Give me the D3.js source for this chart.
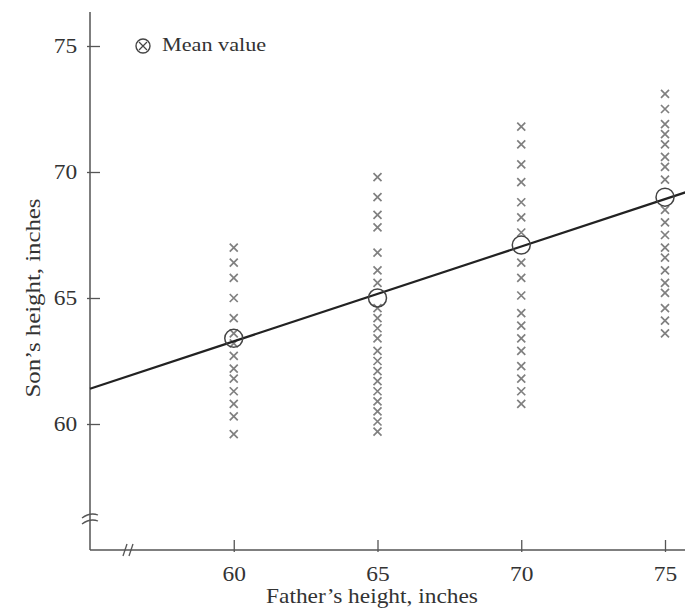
<!DOCTYPE html>
<html>
<head>
<meta charset="utf-8">
<script src="https://cdn.jsdelivr.net/npm/d3@7"></script>
<style>
  body { margin: 0; background: #fff; }
  text { font-family: "Liberation Serif", "DejaVu Serif", serif; fill: #333; }
</style>
</head>
<body>
<svg id="chart" width="685" height="614"></svg>
<script>
// Fathers' heights (x) and the sons' heights observed for each of them
var fatherHeights = [60, 65, 70, 75];
var son60 = [67.0, 66.4, 65.8, 65.0, 64.2, 63.6, 63.2, 62.7, 62.2, 61.8, 61.3, 60.8, 60.3, 59.6];
var son65 = [69.8, 69.0, 68.3, 67.8, 66.8, 66.1, 65.6, 64.6, 64.2, 63.8, 63.4, 62.9, 62.5, 62.1, 61.7, 61.3, 60.9, 60.5, 60.1, 59.7];
var son70 = [71.8, 71.1, 70.3, 69.6, 68.8, 68.2, 67.6, 66.4, 65.8, 65.1, 64.4, 63.9, 63.4, 62.9, 62.3, 61.8, 61.3, 60.8];
var son75 = [73.1, 72.5, 71.9, 71.5, 71.1, 70.6, 70.2, 69.7, 68.5, 68.0, 67.5, 67.0, 66.6, 66.1, 65.6, 65.2, 64.6, 64.1, 63.6];
var meanHeights = [63.4, 65.0, 67.1, 69.0];
// regression line end points
var lineFather = [55, 76];
var lineSon = [61.4, 69.3];

var xTicks = [60, 65, 70, 75];
var yTicks = [60, 65, 70, 75];

var svg = d3.select("#chart");

var x = d3.scaleLinear().domain([55, 75]).range([90, 665]);
var y = d3.scaleLinear().domain([55, 75]).range([550, 46]);

var axisColor = "#555";
var stretch = 1.17; // the scanned type is wider than Liberation Serif

// axes lines
svg.append("line")
  .attr("x1", x(55)).attr("x2", 685)
  .attr("y1", y(55)).attr("y2", y(55))
  .style("stroke", axisColor).style("stroke-width", 1.5);
svg.append("line")
  .attr("x1", x(55)).attr("x2", x(55))
  .attr("y1", 12).attr("y2", y(55))
  .style("stroke", axisColor).style("stroke-width", 1.5);

var xAxis = svg.append("g")
  .attr("transform", "translate(0," + y(55) + ")")
  .call(d3.axisBottom(x).tickValues(xTicks).tickSize(-10).tickPadding(17));
xAxis.select(".domain").remove();
xAxis.selectAll(".tick line").attr("y1", 2).style("stroke", axisColor).style("stroke-width", 1.3);
xAxis.selectAll(".tick text")
  .style("font-size", "20px").style("font-family", "Liberation Serif").attr("fill", "#333")
  .attr("transform", "scale(" + stretch + ",1)");

var yAxis = svg.append("g")
  .attr("transform", "translate(" + x(55) + ",0)")
  .call(d3.axisLeft(y).tickValues(yTicks).tickSize(-10).tickPadding(11));
yAxis.select(".domain").remove();
yAxis.selectAll(".tick line").attr("x1", -3).style("stroke", axisColor).style("stroke-width", 1.3);
yAxis.selectAll(".tick text")
  .style("font-size", "20px").style("font-family", "Liberation Serif").attr("fill", "#333")
  .attr("transform", "scale(" + stretch + ",1)");

// axis break marks
var by = 519;
[-3, 3].forEach(function(o) {
  svg.append("path")
    .attr("d", "M" + (x(55) - 8) + "," + (by + o + 2) + " q8,-6 16,-3")
    .style("fill", "none").style("stroke", axisColor).style("stroke-width", 1.3);
});
[-3, 3].forEach(function(o) {
  svg.append("line")
    .attr("x1", 128 + o - 2).attr("y1", y(55) + 6)
    .attr("x2", 128 + o + 2).attr("y2", y(55) - 6)
    .style("stroke", axisColor).style("stroke-width", 1.3);
});

// crosses
var sons = [son60, son65, son70, son75];
var pts = [];
fatherHeights.forEach(function(f, i) {
  sons[i].forEach(function(s) { pts.push({f: f, s: s}); });
});
var cs = 4;
svg.append("g").selectAll("path.cross")
  .data(pts).enter()
  .append("path")
  .attr("class", "cross")
  .attr("d", function(d) {
    var cx = x(d.f), cy = y(d.s);
    return "M" + (cx - cs) + "," + (cy - cs) + "L" + (cx + cs) + "," + (cy + cs) +
           "M" + (cx - cs) + "," + (cy + cs) + "L" + (cx + cs) + "," + (cy - cs);
  })
  .style("stroke", "#808080").style("stroke-width", 1.7).style("fill", "none");

// regression line
svg.append("line")
  .attr("x1", x(lineFather[0])).attr("y1", y(lineSon[0]))
  .attr("x2", x(lineFather[1])).attr("y2", y(lineSon[1]))
  .style("stroke", "#222").style("stroke-width", 2.2);

// mean values
svg.append("g").selectAll("circle")
  .data(fatherHeights).enter()
  .append("circle")
  .attr("cx", function(d) { return x(d); })
  .attr("cy", function(d, i) { return y(meanHeights[i]); })
  .attr("r", 9)
  .style("fill", "none").style("stroke", "#444").style("stroke-width", 1.5);

// legend
var lg = svg.append("g").attr("transform", "translate(143,46)");
lg.append("circle").attr("r", 7).style("fill", "none").style("stroke", "#444").style("stroke-width", 1.4);
lg.append("path").attr("d", "M-4,-4L4,4M-4,4L4,-4").style("stroke", "#444").style("stroke-width", 1.2);
lg.append("text").attr("transform", "translate(19,5) scale(" + stretch + ",1)")
  .style("font-size", "19px").text("Mean value");

// axis titles
svg.append("text")
  .attr("transform", "translate(372,603) scale(" + stretch + ",1)")
  .attr("text-anchor", "middle")
  .style("font-size", "20px")
  .text("Father\u2019s height, inches");
svg.append("text")
  .attr("transform", "translate(40,298) rotate(-90) scale(1.24,1)")
  .attr("text-anchor", "middle")
  .style("font-size", "20px")
  .text("Son\u2019s height, inches");
</script>
</body>
</html>
